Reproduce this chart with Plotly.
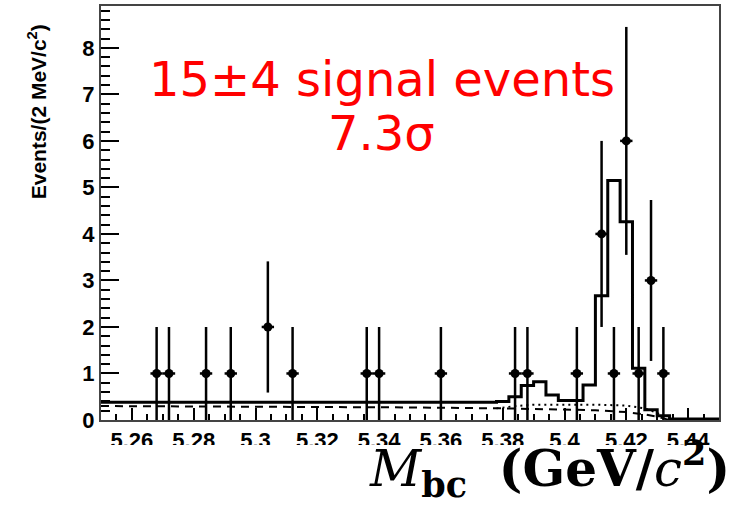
import plotly.graph_objects as go

# ---- data ----
data_x = [5.268, 5.272, 5.284, 5.292, 5.304, 5.312, 5.336, 5.340, 5.360,
          5.384, 5.388, 5.404, 5.412, 5.416, 5.420, 5.424, 5.428, 5.432]
data_y = [1, 1, 1, 1, 2, 1, 1, 1, 1, 1, 1, 1, 4, 1, 6, 1, 3, 1]
data_err = [1, 1, 1, 1, 1.41, 1, 1, 1, 1, 1, 1, 1, 2.0, 1, 2.45, 1, 1.73, 1]
bin_half = 0.002

fit_edges = [5.250, 5.378, 5.382, 5.386, 5.390, 5.394, 5.398, 5.406, 5.410,
             5.414, 5.418, 5.422, 5.426, 5.430, 5.434, 5.450]
fit_vals = [0.38, 0.40, 0.50, 0.74, 0.82, 0.54, 0.42, 0.75, 2.67,
            5.15, 4.26, 1.11, 0.22, 0.09, 0.02]

bkg_x = [5.25, 5.30, 5.35, 5.38, 5.40, 5.41, 5.42, 5.426, 5.430, 5.434, 5.45]
bkg_y = [0.30, 0.29, 0.27, 0.25, 0.23, 0.21, 0.17, 0.12, 0.07, 0.0, 0.0]

peak_bkg_x = [5.378, 5.384, 5.390, 5.400, 5.410, 5.420, 5.426, 5.430, 5.434, 5.436]
peak_bkg_y = [0.25, 0.30, 0.33, 0.33, 0.33, 0.31, 0.25, 0.15, 0.02, 0.0]

x_ticks = [5.26, 5.28, 5.30, 5.32, 5.34, 5.36, 5.38, 5.40, 5.42, 5.44]
x_ticktext = ["5.26", "5.28", "5.3", "5.32", "5.34", "5.36", "5.38", "5.4", "5.42", "5.44"]
y_ticks = [0, 1, 2, 3, 4, 5, 6, 7, 8]

fig = go.Figure()

fig.add_trace(go.Scatter(x=bkg_x, y=bkg_y, mode="lines",
                         line=dict(color="black", width=2, dash="8px,6px"),
                         showlegend=False, hoverinfo="skip"))
fig.add_trace(go.Scatter(x=peak_bkg_x, y=peak_bkg_y, mode="lines",
                         line=dict(color="black", width=2, dash="2px,4px"),
                         showlegend=False, hoverinfo="skip"))
fig.add_trace(go.Scatter(x=fit_edges, y=fit_vals + [fit_vals[-1]], mode="lines",
                         line=dict(color="black", width=3, shape="hv"),
                         showlegend=False, hoverinfo="skip"))
fig.add_trace(go.Scatter(x=data_x, y=data_y, mode="markers",
                         marker=dict(color="black", size=9, symbol="circle"),
                         error_y=dict(type="data", array=data_err, color="black",
                                      thickness=2.5, width=0),
                         error_x=dict(type="constant", value=bin_half, color="black",
                                      thickness=2.5, width=0),
                         showlegend=False))

tickfont = dict(family="Liberation Sans", size=22, color="black", weight="bold")

fig.update_xaxes(range=[5.25, 5.45], tickvals=x_ticks, ticktext=x_ticktext,
                 ticks="inside", ticklen=12, tickwidth=1.5, tickcolor="black",
                 minor=dict(dtick=0.005, tick0=5.25, ticks="inside", ticklen=6,
                            tickwidth=1.5, tickcolor="black", showgrid=False),
                 showline=True, linecolor="#444", linewidth=2, mirror=True,
                 showgrid=False, zeroline=False, tickfont=tickfont,
                 automargin=False)
fig.update_yaxes(range=[0, 8.9], tickvals=y_ticks,
                 ticks="inside", ticklen=18, tickwidth=1.5, tickcolor="black",
                 minor=dict(dtick=0.2, tick0=0, ticks="inside", ticklen=9,
                            tickwidth=1.5, tickcolor="black", showgrid=False),
                 showline=True, linecolor="#444", linewidth=2, mirror=True,
                 showgrid=False, zeroline=False, tickfont=tickfont,
                 automargin=False)

# white strip that clips the lower part of the x tick labels (as in the reference)
fig.add_shape(type="rect", xref="paper", yref="paper", x0=-0.3, x1=1.2,
              y0=-0.4, y1=-(445 - 420) / 414, fillcolor="white",
              line=dict(width=0), layer="above")

fig.add_annotation(x=5.3409, y=7.34, xref="x", yref="y",
                   text="15±4 signal events", showarrow=False,
                   font=dict(family="DejaVu Sans", size=48, color="red"),
                   xanchor="center", yanchor="middle")
fig.add_annotation(x=5.3409, y=6.16, xref="x", yref="y",
                   text="7.3σ", showarrow=False,
                   font=dict(family="DejaVu Sans", size=48, color="red"),
                   xanchor="center", yanchor="middle")

fig.add_annotation(x=-0.104, y=0.745, xref="paper", yref="paper",
                   text="Events/(2 MeV/c<sup>2</sup>)", textangle=-90,
                   showarrow=False,
                   font=dict(family="Liberation Sans", size=21, color="black",
                             weight="bold"),
                   xanchor="center", yanchor="middle")

fig.add_annotation(x=(732 - 101) / 618, y=-(468 - 420) / 414, xref="paper", yref="paper",
                   text="<i>M</i><sub><b>bc</b></sub>  <b>(GeV/</b><i>c</i><sup><b>2</b></sup><b>)</b>",
                   showarrow=False,
                   font=dict(family="DejaVu Serif", size=50, color="black"),
                   xanchor="right", yanchor="middle")

fig.update_layout(width=747, height=505,
                  margin=dict(l=101, r=28, t=6, b=85),
                  plot_bgcolor="white", paper_bgcolor="white")

fig.write_html("out.html")
